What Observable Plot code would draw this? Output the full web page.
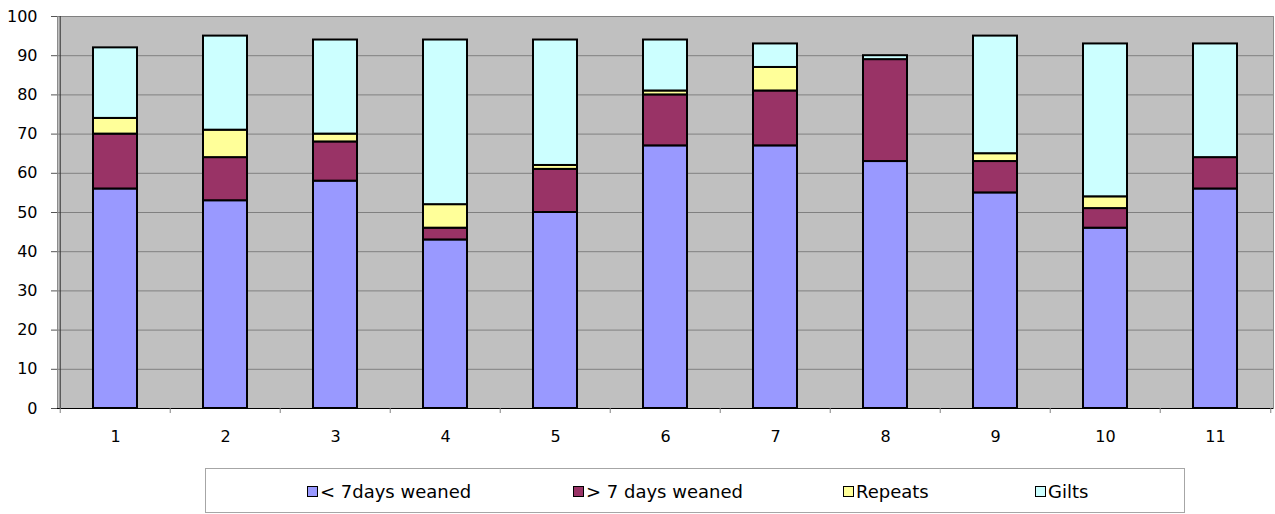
<!DOCTYPE html>
<html>
<head>
<meta charset="utf-8">
<script src="https://cdn.jsdelivr.net/npm/d3@7"></script>
<script src="https://cdn.jsdelivr.net/npm/@observablehq/plot@0.6"></script>
<style>
  html, body { margin: 0; padding: 0; background: #fff; }
  body { position: relative; width: 1275px; height: 514px; overflow: hidden; font-family: "DejaVu Sans", sans-serif; }
  #chart svg { display: block; }
  #legend { position: absolute; left: 205px; top: 468px; width: 978px; height: 43px; border: 1px solid #a6a6a6; background: #fff; }
  .item { position: absolute; top: 12px; height: 20px; display: flex; align-items: center; font-size: 18px; color: #000; white-space: pre; }
  .sw { width: 9px; height: 9px; border: 1px solid #000; margin-right: 2px; }
</style>
</head>
<body>
<div id="chart"></div>
<div id="legend"></div>
<script>
const categories = ["1", "2", "3", "4", "5", "6", "7", "8", "9", "10", "11"];
const seriesNames = ["< 7days weaned", "> 7 days weaned", "Repeats", "Gilts"];
const lessThan7 = [56, 53, 58, 43, 50, 67, 67, 63, 55, 46, 56];
const moreThan7 = [14, 11, 10, 3, 11, 13, 14, 26, 8, 5, 8];
const repeats   = [4, 7, 2, 6, 1, 1, 6, 0, 2, 3, 0];
const gilts     = [18, 24, 24, 42, 32, 13, 6, 1, 30, 39, 29];
const yTicks = [0, 10, 20, 30, 40, 50, 60, 70, 80, 90, 100];
const colors = ["#9999ff", "#993366", "#ffff99", "#ccffff"];

const seriesValues = [lessThan7, moreThan7, repeats, gilts];
const data = [];
categories.forEach((c, i) => {
  seriesNames.forEach((s, k) => {
    data.push({cat: c, series: s, value: seriesValues[k][i]});
  });
});

const W = 1275, H = 462;
const mL = 57, mR = 2, mT = 16, mB = 54;
const step = (W - mL - mR) / categories.length;

const chart = Plot.plot({
  width: W,
  height: H,
  marginLeft: mL,
  marginRight: mR,
  marginTop: mT,
  marginBottom: mB,
  style: {fontFamily: "DejaVu Sans, sans-serif", fontSize: "16px", color: "#000", background: "#fff"},
  x: {domain: categories, paddingInner: 0.6, paddingOuter: 0.3, axis: null},
  y: {domain: [0, 100], axis: null},
  color: {domain: seriesNames, range: colors},
  marks: [
    Plot.frame({fill: "#c0c0c0", stroke: "#8c8c8c"}),
    Plot.gridY(yTicks, {stroke: "#808080", strokeOpacity: 1, strokeWidth: 1}),
    Plot.barY(data.filter(d => d.value > 0), {
      x: "cat", y: "value", fill: "series", z: "series",
      stroke: "#000", strokeWidth: 2
    }),
    Plot.ruleY([0], {stroke: "#000", strokeWidth: 1}),
    Plot.ruleX([categories[0]], {dx: -step / 2, stroke: "#333", strokeWidth: 1}),
    Plot.axisY({ticks: yTicks, tickSize: 6, tickPadding: 14, stroke: "#555", fill: "#000", fontSize: 16, label: null}),
    Plot.axisX({ticks: categories, tickSize: 5, tickFormat: () => "", dx: -step / 2, stroke: "#808080", label: null}),
    Plot.axisX({ticks: [categories[categories.length - 1]], tickSize: 5, tickFormat: () => "", dx: step / 2, stroke: "#808080", label: null}),
    Plot.axisX({ticks: categories, tickSize: 0, tickPadding: 22, fill: "#000", fontSize: 16, label: null})
  ]
});
document.getElementById("chart").appendChild(chart);

const legend = document.getElementById("legend");
const legendLeft = [101, 367, 637, 829];
seriesNames.forEach((s, k) => {
  const item = document.createElement("div");
  item.className = "item";
  item.style.left = legendLeft[k] + "px";
  const sw = document.createElement("span");
  sw.className = "sw";
  sw.style.background = colors[k];
  const t = document.createElement("span");
  t.textContent = s;
  item.appendChild(sw);
  item.appendChild(t);
  legend.appendChild(item);
});
</script>
</body>
</html>
